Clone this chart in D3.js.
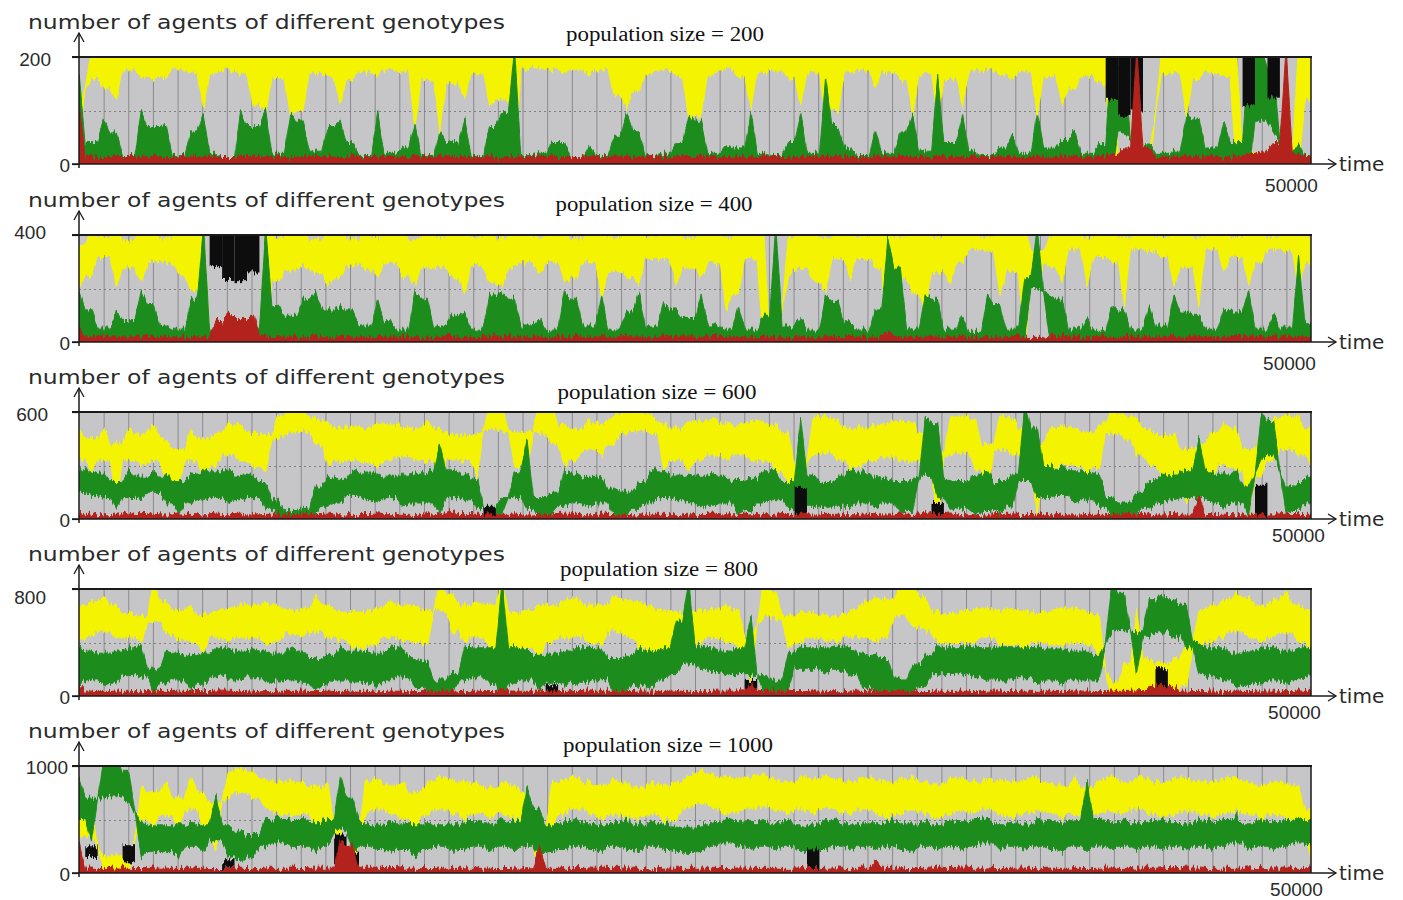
<!DOCTYPE html>
<html><head><meta charset="utf-8">
<script src="https://cdn.jsdelivr.net/npm/d3@7"></script>
<style>body{margin:0;background:#fff}svg{display:block}</style>
</head><body><svg id="c" width="1403" height="900"></svg>
<script>
// ---------------- DATA ----------------
const populations = [200, 400, 600, 800, 1000];
const timeMax = 50000;
const axisTitle = "number of agents of different genotypes";
const xLabel = "time";
const xTickLabel = "50000";

// panel 1 (population 200)
const yLo1=[50,160,140,120,176,164,156,160,176,172,104,170,176,168,110,96,160,90,100,170,164,110,160,172,168,176,170,68,160,62,150,122,170,110,120,0,176,180,176,172,176,168,176,130,104,136,170,176,164,86,90,168,176,160,104,172,176,160,110,172,80,100,172,176,142,172,160,92,170,80,160,110,172,176,170,156,172,92,164,112,140,164,150,0,0,0,0,170,170,88,160,172,164,0,0,0,0,0,0,120];
const yHi1=[120,200,200,200,200,200,200,200,200,200,200,200,200,200,200,200,200,200,200,200,200,200,200,200,200,200,200,200,200,200,200,200,200,200,200,200,200,200,200,200,200,200,200,200,200,200,200,200,200,200,200,200,200,200,200,200,200,200,200,200,200,200,200,200,200,200,200,200,200,200,200,200,200,200,200,200,200,200,200,200,200,200,200,200,16,12,20,200,200,200,200,200,200,200,20,20,16,20,200,200];
const gLo1=[4,4,4,4,4,4,4,4,4,4,4,4,4,4,4,4,4,4,4,4,4,4,4,4,4,4,4,4,4,4,4,4,4,4,4,0,4,4,4,4,4,4,4,4,4,4,4,4,4,4,4,4,4,4,4,4,4,4,4,4,4,4,4,4,4,4,4,4,4,4,4,4,4,4,4,4,4,4,4,4,4,4,4,0,60,4,4,4,4,4,4,4,4,4,0,80,60,4,4,4];
const gHi1=[170,40,86,60,16,100,72,74,16,60,94,20,12,100,70,100,20,90,80,24,70,80,40,16,94,20,30,76,16,62,40,84,16,70,96,200,16,20,40,40,12,34,16,50,96,62,16,20,40,90,80,20,34,30,96,20,16,40,92,20,164,70,30,16,64,20,60,92,24,164,40,96,24,16,30,56,20,96,30,44,62,20,38,200,180,30,40,20,24,88,84,30,82,40,200,200,180,20,38,16];
const red1=[110,15,12,14,16,13,15,12,14,15,13,16,12,15,14,13,16,12,15,14,14,12,16,13,15,14,12,16,13,15,15,13,14,16,12,15,13,14,16,12,12,16,13,15,14,12,16,13,15,14,16,14,12,15,13,16,14,12,15,13,13,15,14,12,16,13,15,14,12,16,14,12,16,13,15,14,12,16,13,15,15,13,14,18,30,200,30,12,14,15,13,15,12,16,18,24,40,200,18,15];
const blackIdx1=[83,84,85,94,96], blackLo1=[120,90,100,110,124], blackHi1=[200,200,200,200,200];

// panel 2 (population 400)
const yLo2=[200,248,320,212,280,224,300,300,248,192,0,0,0,0,0,0,232,260,280,260,212,240,288,272,240,300,240,212,280,276,240,176,288,220,212,280,300,248,300,220,240,300,164,264,240,220,312,312,212,280,240,300,120,180,312,0,0,240,276,220,188,312,240,312,280,0,240,180,112,260,220,300,348,340,176,260,0,220,288,220,348,212,320,300,136,348,340,320,212,280,136,348,260,320,212,300,348,340,200,300];
const yHi2=[360,400,392,400,380,400,400,388,400,400,400,16,16,12,16,400,392,400,400,380,400,400,384,400,392,400,400,384,400,392,400,400,392,400,388,400,400,392,400,400,384,400,400,392,400,400,392,400,400,388,400,400,392,400,400,400,20,392,400,400,392,400,400,392,400,400,392,400,400,392,400,400,400,392,400,400,400,340,392,400,400,392,400,400,392,400,400,392,400,400,392,400,400,392,400,400,392,400,400,392];
const gLo2=[12,16,12,8,12,16,12,8,12,16,0,12,8,12,8,0,12,16,12,8,12,16,12,8,12,16,12,8,12,16,12,8,12,16,12,8,12,16,12,8,12,16,12,8,12,16,12,8,12,16,12,8,12,16,12,8,0,12,16,12,8,12,16,12,8,20,12,16,12,8,12,16,12,8,12,16,12,200,16,12,8,12,16,12,8,12,16,12,8,12,16,12,8,12,16,12,8,12,16,12];
const gHi2=[188,120,48,112,80,192,140,60,48,160,400,40,32,40,48,400,136,100,160,188,120,132,120,60,160,76,48,188,160,60,100,112,48,176,188,160,60,88,48,188,160,60,176,48,112,188,60,148,120,88,176,60,48,136,48,100,400,60,88,48,176,152,72,48,120,388,280,48,176,160,48,100,40,176,140,48,240,400,176,160,48,88,40,136,120,48,136,60,176,112,100,48,124,112,192,48,100,48,320,72];
const red2=[60,18,20,16,22,19,17,21,18,20,19,80,108,88,108,20,17,21,18,22,16,20,19,17,21,18,22,19,16,20,21,18,17,22,19,20,16,21,18,19,22,17,20,18,21,19,16,22,18,20,19,21,17,20,18,22,19,16,21,18,20,17,22,19,18,40,21,17,20,19,18,22,16,20,19,21,18,17,22,20,19,16,21,18,20,22,17,19,21,18,20,19,17,22,18,20,21,16,19,20];
const blackIdx2=[11,12,13,14], blackLo2=[280,232,220,260], blackHi2=[400,400,400,400];

// panel 3 (population 600)
const yLo3=[330,270,330,90,330,300,330,210,180,330,240,300,360,330,300,270,450,480,492,420,300,330,330,312,300,330,348,330,330,90,330,330,240,510,492,300,270,480,420,300,330,390,360,420,480,492,480,270,330,270,330,360,330,360,330,330,270,210,60,360,372,330,270,300,330,348,330,330,270,0,360,372,270,60,390,360,300,30,270,300,300,270,288,480,450,360,300,240,210,90,180,240,300,270,30,240,330,390,360,300];
const yHi3=[510,450,510,420,510,480,528,450,390,504,450,480,540,528,480,468,582,600,600,570,540,510,522,510,540,528,522,510,552,510,480,468,480,600,600,480,492,600,600,528,510,552,540,588,600,600,588,540,510,540,552,570,528,528,552,558,528,480,300,570,570,552,510,510,528,540,552,540,480,360,570,570,570,420,588,570,510,420,510,528,510,480,528,600,588,570,510,468,480,390,420,480,540,510,390,480,570,582,570,510];
const gLo3=[150,132,120,60,120,108,150,90,30,90,108,120,90,108,120,60,18,12,12,30,72,90,132,108,90,120,72,90,90,30,120,108,60,18,30,120,60,18,30,72,90,72,90,30,30,60,90,120,108,90,72,72,90,30,48,90,108,60,30,72,60,72,72,90,60,90,30,48,240,120,48,60,30,48,30,72,210,120,120,132,90,108,72,18,18,30,60,90,108,120,120,90,60,90,30,330,360,30,48,90];
const gHi3=[270,270,252,210,270,240,270,240,210,252,270,270,270,252,252,210,108,48,60,180,240,228,270,258,264,240,240,252,270,420,270,252,228,72,120,270,450,120,150,270,252,228,240,168,150,210,270,270,240,252,240,270,240,210,228,270,270,210,570,252,210,240,270,264,240,228,210,228,570,540,228,210,240,270,210,252,600,510,300,288,270,270,252,120,90,150,210,240,252,270,450,270,252,270,180,582,552,180,210,240];
const red3=[40,26,24,28,40,25,27,23,29,26,24,28,25,27,23,26,29,24,27,25,28,23,26,25,29,24,27,26,23,28,54,25,27,24,26,29,23,27,25,28,26,24,29,25,27,23,28,26,24,27,25,28,23,26,29,24,27,25,28,23,26,27,24,28,25,23,29,26,54,25,28,24,27,23,26,29,25,27,24,28,23,26,28,25,27,24,29,23,26,28,132,25,27,24,29,26,23,28,25,27];
const blackIdx3=[33,58,69,95], blackLo3=[12,18,12,18], blackHi3=[72,180,90,192];

// panel 4 (population 800)
const yLo4=[400,440,480,440,440,400,560,464,416,400,320,440,416,440,440,384,400,464,448,480,440,416,360,360,384,440,416,400,384,640,480,400,440,360,0,360,360,280,400,440,440,400,384,480,440,360,320,280,320,360,400,440,400,360,120,600,560,360,400,440,416,400,440,440,400,440,600,520,480,400,384,400,400,440,384,384,360,400,384,376,400,384,280,0,0,40,40,0,0,80,360,400,440,480,440,400,440,480,400,360];
const yHi4=[680,704,744,680,624,600,800,704,640,680,600,640,656,688,680,704,680,640,656,744,680,640,624,640,656,720,680,680,640,800,760,680,704,680,800,624,640,680,680,720,736,680,680,760,720,704,680,640,624,640,640,656,680,640,440,800,784,600,624,624,608,600,640,704,736,720,800,800,736,640,608,640,656,656,640,656,640,624,640,656,656,640,600,96,240,640,280,240,280,400,640,680,720,776,736,680,720,784,680,640];
const gLo4=[96,120,80,96,160,144,24,96,120,40,80,144,120,120,144,96,120,120,96,40,80,120,120,96,80,120,144,64,40,24,40,120,144,96,0,96,120,40,96,80,96,96,120,24,40,80,64,120,160,240,200,176,160,160,160,24,24,40,200,200,176,200,160,64,40,40,24,24,80,160,176,160,144,120,120,120,144,96,120,96,120,120,120,480,496,160,440,480,440,360,160,144,120,64,80,96,120,80,120,144];
const gHi4=[360,336,320,336,360,376,200,336,320,304,320,360,360,336,352,336,320,368,336,280,304,360,336,336,320,368,360,288,256,120,176,368,360,360,800,368,352,304,320,336,360,368,352,280,304,360,336,360,560,800,376,360,336,360,600,144,120,320,376,360,360,376,360,320,304,280,120,240,304,376,360,368,368,360,368,368,360,368,352,352,336,336,304,800,760,480,720,760,720,680,400,360,360,320,336,360,368,336,360,360];
const red4=[96,36,33,38,35,32,39,34,37,35,33,38,36,34,39,32,37,35,38,33,36,34,39,35,32,38,36,33,37,35,39,34,36,33,50,37,35,38,32,36,34,39,35,37,33,38,36,34,39,35,32,37,36,38,96,34,37,35,33,39,36,32,38,35,37,34,39,36,33,38,35,37,34,36,39,33,38,35,37,34,36,38,33,37,35,39,64,80,64,36,33,38,35,37,34,39,36,33,38,35];
const blackIdx4=[38,54,87], blackLo4=[16,40,64], blackHi4=[80,120,200];

// panel 5 (population 1000)
const yLo5=[300,350,20,20,20,500,450,550,400,600,400,200,700,750,700,600,550,550,550,450,500,50,0,550,600,550,500,350,550,600,550,500,550,500,550,500,300,0,400,550,600,550,500,550,520,500,550,480,500,600,650,600,550,580,600,620,580,550,600,550,600,580,550,600,550,520,550,580,550,520,550,580,550,600,550,520,550,580,550,500,550,500,550,580,550,600,550,520,550,580,550,520,550,580,550,500,550,520,450,100];
const yHi5=[650,600,150,180,150,800,750,850,700,900,750,650,950,980,950,880,850,850,850,800,850,400,200,850,880,820,850,750,850,900,880,850,850,800,850,820,750,400,850,880,900,850,820,880,850,800,850,820,850,920,960,920,880,880,900,920,880,850,900,880,920,880,850,900,880,850,880,900,850,820,880,900,850,880,860,850,880,900,850,820,880,800,880,900,850,900,880,850,880,900,860,850,880,900,850,820,860,840,800,600];
const gLo5=[500,300,700,720,650,150,200,200,150,250,200,300,150,100,150,250,280,250,250,200,250,400,200,250,220,200,220,150,220,250,200,220,250,200,250,200,250,150,200,220,250,220,200,250,220,200,250,220,200,180,200,250,280,250,220,250,220,250,200,180,220,250,220,250,220,250,220,200,250,220,250,220,250,280,220,250,220,250,220,200,250,200,250,220,250,220,250,220,250,220,250,220,250,280,220,250,220,250,280,250];
const gHi5=[900,700,1000,1000,950,480,450,450,450,480,450,720,450,400,350,500,520,500,500,480,500,920,700,480,450,480,460,450,480,450,450,480,480,450,500,480,800,600,450,480,500,460,450,480,500,450,480,460,440,420,450,480,520,500,480,500,460,500,450,450,480,500,450,480,460,500,480,450,480,460,500,480,500,520,460,480,450,500,480,460,500,850,500,480,500,460,480,500,480,460,500,480,500,520,460,500,480,500,520,500];
const red5=[280,46,42,48,44,41,47,45,43,49,44,42,47,45,41,48,44,46,42,47,45,300,250,44,48,42,46,45,41,47,43,48,44,46,42,45,49,250,44,46,42,47,45,43,48,44,41,46,45,43,47,44,42,48,45,43,46,44,49,42,45,47,43,46,120,44,48,42,45,47,43,46,44,48,42,45,47,43,46,44,48,42,45,47,43,46,44,48,42,45,47,43,46,44,48,42,45,47,43,60];
const blackIdx5=[1,4,12,21,22,59], blackLo5=[150,100,50,100,50,40], blackHi5=[250,260,120,350,200,220];

// ---------------- LAYOUT / STYLE ----------------
const panels = [
  {pop:populations[0], yLo:yLo1, yHi:yHi1, gLo:gLo1, gHi:gHi1, red:red1, bI:blackIdx1, bL:blackLo1, bH:blackHi1},
  {pop:populations[1], yLo:yLo2, yHi:yHi2, gLo:gLo2, gHi:gHi2, red:red2, bI:blackIdx2, bL:blackLo2, bH:blackHi2},
  {pop:populations[2], yLo:yLo3, yHi:yHi3, gLo:gLo3, gHi:gHi3, red:red3, bI:blackIdx3, bL:blackLo3, bH:blackHi3},
  {pop:populations[3], yLo:yLo4, yHi:yHi4, gLo:gLo4, gHi:gHi4, red:red4, bI:blackIdx4, bL:blackLo4, bH:blackHi4},
  {pop:populations[4], yLo:yLo5, yHi:yHi5, gLo:gLo5, gHi:gHi5, red:red5, bI:blackIdx5, bL:blackLo5, bH:blackHi5}
];
const panelTops = [57, 235, 412, 589, 766];
const plotH = 107;
const X0 = 79, X1 = 1311;
const popTitleX = [665, 654, 657, 659, 668];
const popTitleDy = [-22, -30, -19, -19, -20];
const popTitleW = [198, 197, 199, 198, 210];
const maxLabelShift = [-19, -24, -22, -24, -2];
const maxLabelDy = [1, -4, 1, 7, 0];
const xTickX = [1291, 1289, 1298, 1294, 1296];
const xTickDy = [21, 21, 16, 16, 16];

const COL = {bg:'#c6c6c8', grid:'#8a8a8e', yellow:'#f4f400', green:'#1f8c1f', red:'#b3231a', black:'#111', axis:'#1a1a1a', text:'#2a2a2a'};

const svg = d3.select('#c');
const defs = svg.append('defs');
// texture filter: column-wise vertical jitter of edges (mimics dense sampled line)
const flt = defs.append('filter').attr('id', 'jag').attr('x', '-1%').attr('y', '-10%').attr('width', '102%').attr('height', '120%');
flt.append('feTurbulence').attr('type', 'fractalNoise').attr('baseFrequency', '0.45 0.02').attr('numOctaves', 2).attr('seed', 7).attr('result', 'n');
flt.append('feColorMatrix').attr('in', 'n').attr('type', 'matrix')
  .attr('values', '0 0 0 0 0.5  0 1 0 0 0  0 0 0 0 0.5  0 0 0 0 1').attr('result', 'm');
flt.append('feDisplacementMap').attr('in', 'SourceGraphic').attr('in2', 'm').attr('scale', 12)
  .attr('xChannelSelector', 'R').attr('yChannelSelector', 'G');

const x = d3.scaleLinear().domain([0, timeMax]).range([X0, X1]);
const nBins = yLo1.length;
const times = d3.range(nBins).map(i => i * timeMax / (nBins - 1));
const binW = x(times[1]) - x(times[0]);

// envelope points: bin centres plus pinched bin boundaries
function envelope(lo, hi) {
  const pts = [];
  for (let i = 0; i < lo.length; i++) {
    pts.push([times[i], lo[i], hi[i]]);
    if (i < lo.length - 1) {
      let bl = Math.max(lo[i], lo[i + 1]), bh = Math.min(hi[i], hi[i + 1]);
      if (bl > bh) { const m = (bl + bh) / 2; bl = m; bh = m; }
      pts.push([(times[i] + times[i + 1]) / 2, bl, bh]);
    }
  }
  return pts;
}

panels.forEach((p, k) => {
  const top = panelTops[k], bot = top + plotH;
  const y = d3.scaleLinear().domain([0, p.pop]).range([bot, top]);
  const yy = v => v >= p.pop ? y(v) - 8 : (v <= 0 ? y(v) + 8 : y(v));
  const g = svg.append('g');

  defs.append('clipPath').attr('id', 'clip' + k)
    .append('rect').attr('x', X0).attr('y', top).attr('width', X1 - X0).attr('height', plotH);

  g.append('rect').attr('x', X0).attr('y', top).attr('width', X1 - X0).attr('height', plotH).attr('fill', COL.bg);

  g.append('g').selectAll('line').data(d3.range(1000, timeMax, 1000)).join('line')
    .attr('x1', d => x(d) + 0.5).attr('x2', d => x(d) + 0.5).attr('y1', top).attr('y2', bot)
    .attr('stroke', COL.grid).attr('stroke-width', 1);
  g.append('line').attr('x1', X0).attr('x2', X1).attr('y1', Math.round(y(p.pop / 2)) + 0.5).attr('y2', Math.round(y(p.pop / 2)) + 0.5)
    .attr('stroke', '#808080').attr('stroke-dasharray', '2,3').attr('stroke-width', 1);

  const data = g.append('g').attr('clip-path', `url(#clip${k})`).append('g').attr('filter', 'url(#jag)');
  const band = (lo, hi, color) => {
    const area = d3.area().x(d => x(d[0])).y0(d => yy(d[1])).y1(d => yy(d[2]));
    data.append('path').datum(envelope(lo, hi)).attr('d', area).attr('fill', color).attr('stroke', color).attr('stroke-width', 1);
  };
  band(p.yLo, p.yHi, COL.yellow);
  band(p.gLo, p.gHi, COL.green);

  data.append('g').selectAll('rect').data(p.bI).join('rect')
    .attr('x', d => x(times[d]) - binW * 0.5).attr('width', binW)
    .attr('y', (d, j) => yy(p.bH[j])).attr('height', (d, j) => yy(p.bL[j]) - yy(p.bH[j]))
    .attr('fill', COL.black);

  band(p.red.map(() => 0), p.red, COL.red);

  g.append('line').attr('x1', X0 - 7).attr('x2', X1 + 1).attr('y1', top).attr('y2', top).attr('stroke', COL.axis).attr('stroke-width', 2);
  g.append('line').attr('x1', X1).attr('x2', X1).attr('y1', top).attr('y2', bot).attr('stroke', COL.axis).attr('stroke-width', 1.5);

  const yAxis = d3.axisLeft(y).tickValues([0, p.pop]).tickSize(7).tickPadding(3).tickFormat(d3.format('d'));
  const ya = g.append('g').attr('transform', `translate(${X0},0)`).call(yAxis);
  ya.select('.domain').remove();
  ya.selectAll('line').attr('stroke', COL.axis).attr('stroke-width', 1.2);
  ya.selectAll('text').attr('font-family', 'Liberation Sans, Arial, sans-serif').attr('font-size', 19).attr('fill', COL.text)
    .attr('x', d => d === 0 ? -9 : -9 + maxLabelShift[k])
    .attr('dy', d => d === 0 ? '0.38em' : (0.38 * 19 + maxLabelDy[k]) + 'px');
  g.append('line').attr('x1', X0).attr('x2', X0).attr('y1', bot + 4).attr('y2', top - 24).attr('stroke', COL.axis).attr('stroke-width', 1.5);
  g.append('polyline').attr('points', `${X0 - 5},${top - 15} ${X0},${top - 24} ${X0 + 5},${top - 15}`)
    .attr('fill', 'none').attr('stroke', COL.axis).attr('stroke-width', 1.3);

  const xAxis = d3.axisBottom(x).tickValues([timeMax]).tickSize(0).tickFormat(() => xTickLabel);
  const xa = g.append('g').attr('transform', `translate(0,${bot})`).call(xAxis);
  xa.select('.domain').remove();
  xa.selectAll('text').attr('font-family', 'Liberation Sans, Arial, sans-serif').attr('font-size', 19).attr('fill', COL.text)
    .attr('x', xTickX[k] - X1).attr('y', xTickDy[k]).attr('dy', '0.35em');
  g.append('line').attr('x1', X0 - 7).attr('x2', 1336).attr('y1', bot).attr('y2', bot).attr('stroke', COL.axis).attr('stroke-width', 1.5);
  g.append('polyline').attr('points', `1328,${bot - 5} 1336,${bot} 1328,${bot + 5}`)
    .attr('fill', 'none').attr('stroke', COL.axis).attr('stroke-width', 1.3);
  g.append('text').attr('x', 1339).attr('y', bot + 1).attr('dy', '0.32em').text(xLabel)
    .attr('font-family', 'DejaVu Sans, sans-serif').attr('font-size', 20).attr('fill', COL.text);

  g.append('text').attr('x', 28).attr('y', top - 35).attr('dy', '0.35em').text(axisTitle)
    .attr('font-family', 'DejaVu Sans, sans-serif').attr('font-size', 20).attr('fill', COL.text)
    .attr('textLength', 477).attr('lengthAdjust', 'spacingAndGlyphs');
  g.append('text').attr('x', popTitleX[k]).attr('y', top + popTitleDy[k]).attr('dy', '0.32em')
    .attr('text-anchor', 'middle').text(`population size = ${p.pop}`)
    .attr('font-family', 'Liberation Serif, Times New Roman, serif').attr('font-size', 20).attr('fill', '#111')
    .attr('textLength', popTitleW[k]).attr('lengthAdjust', 'spacingAndGlyphs');
});
</script>
</body></html>
